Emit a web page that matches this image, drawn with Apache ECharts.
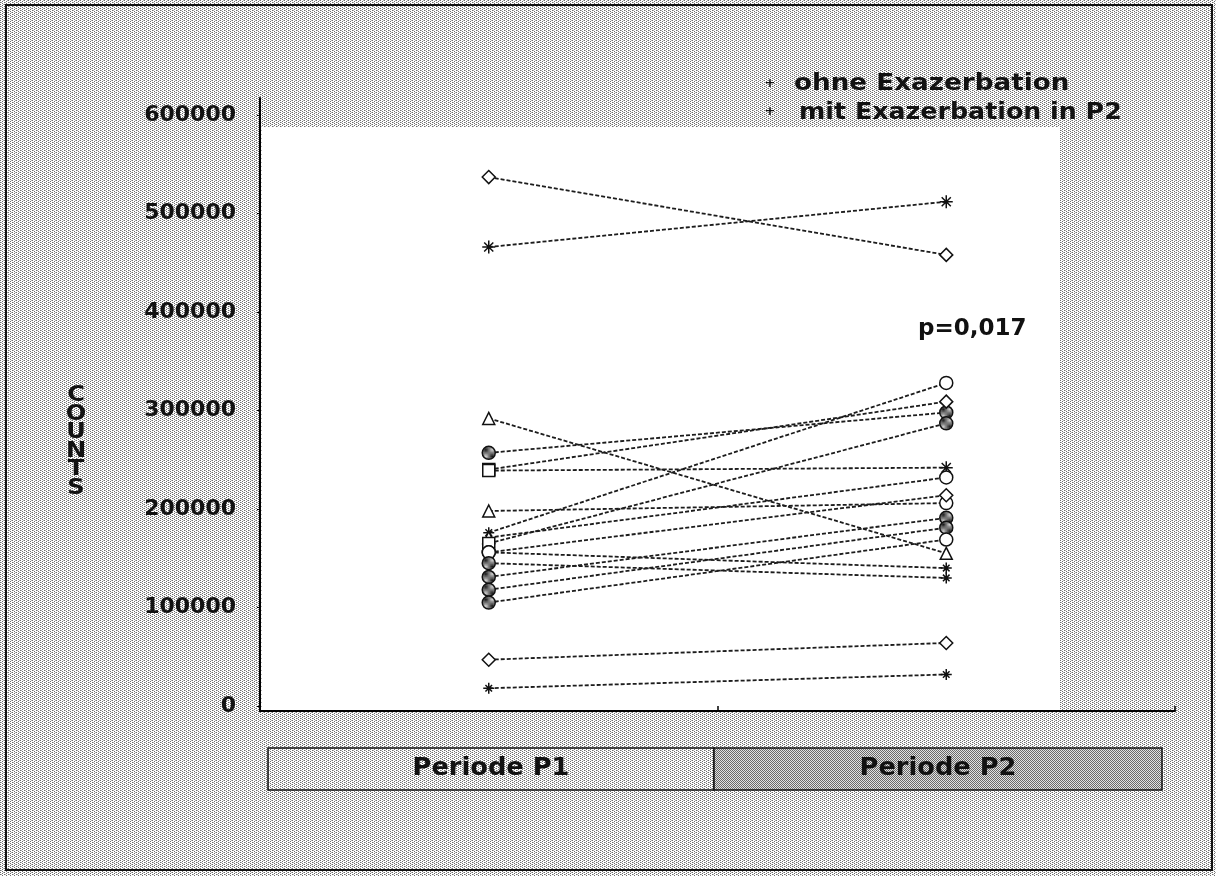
<!DOCTYPE html>
<html>
<head>
<meta charset="utf-8">
<script src="https://cdn.jsdelivr.net/npm/echarts@6/dist/echarts.min.js"></script>
<style>
  html, body { margin: 0; padding: 0; background: #fff; }
  #chart { width: 1216px; height: 876px; }
</style>
</head>
<body>
<div id="chart"></div>
<script>
// Periods on the x axis
const periods = ['Periode P1', 'Periode P2'];
// Counts per patient in period P1 and period P2 (same order)
const countsP1 = [537000, 466000, 292000, 257000, 240000, 239000, 198000, 176000, 171000, 165000, 156000, 156000, 145000, 131000, 118000, 105000, 47000, 18000];
const countsP2 = [458000, 512000, 155000, 298000, 309000, 242000, 206000, 328000, 232000, 287000, 214000, 140000, 130000, 191000, 181000, 169000, 64000, 32000];
// Y axis tick labels
const yTicks = [0, 100000, 200000, 300000, 400000, 500000, 600000];
const legendLabels = ['ohne Exazerbation', 'mit Exazerbation in P2'];
const pValueText = 'p=0,017';
const axisTitle = 'COUNTS';

// Marker shape of each patient line at P1 and P2
const markerKinds = [
  ['diamond', 'diamond'], ['asterisk', 'asterisk'], ['triangle', 'triangle'],
  ['hatched', 'hatched'], ['square', 'diamond'], ['square', 'asterisk'],
  ['triangle', 'circle'], ['cross', 'circle'], ['triangle', 'circle'],
  ['square', 'hatched'], ['circle', 'diamond'], ['circle', 'cross'],
  ['hatched', 'cross'], ['hatched', 'hatched'], ['hatched', 'hatched'],
  ['hatched', 'circle'], ['diamond', 'diamond'], ['cross', 'cross']
];

// Small halftone tiles used as fills
function tile(size, pixels) {
  const c = document.createElement('canvas');
  c.width = c.height = size;
  const g = c.getContext('2d');
  g.fillStyle = '#ffffff';
  g.fillRect(0, 0, size, size);
  pixels.forEach(([x, y, col]) => { g.fillStyle = col; g.fillRect(x, y, 1, 1); });
  return c;
}
const lightTone = tile(4, [[0,0,'#6e6e6e'],[2,1,'#6e6e6e'],[0,2,'#6e6e6e'],[2,3,'#6e6e6e'],[3,0,'#b4b4b4'],[1,2,'#b4b4b4']]);
const darkTone = tile(2, [[0,0,'#6a6a6a'],[1,1,'#6a6a6a'],[1,0,'#e2e2e2'],[0,1,'#e2e2e2']]);
const hatchTone = tile(2, [[0,0,'#111'],[1,1,'#111'],[1,0,'#ddd'],[0,1,'#ddd']]);

const markerStyles = {
  diamond:  { symbol: 'diamond', size: 13, fill: '#fff' },
  asterisk: { symbol: 'path://M0,5L10,5M5,0L5,10M1.5,1.5L8.5,8.5M8.5,1.5L1.5,8.5', size: 13, fill: 'transparent' },
  cross:    { symbol: 'path://M0,5L10,5M5,0L5,10M2,2L8,8M8,2L2,8', size: 11, fill: 'transparent' },
  triangle: { symbol: 'triangle', size: 12, fill: '#fff' },
  hatched:  { symbol: 'circle', size: 13, fill: { image: hatchTone, repeat: 'repeat' } },
  square:   { symbol: 'rect', size: 12, fill: '#fff' },
  circle:   { symbol: 'circle', size: 13, fill: '#fff' }
};

function point(value, kind) {
  const m = markerStyles[kind];
  return {
    value: value,
    symbol: m.symbol,
    symbolSize: m.size,
    itemStyle: { color: m.fill, borderColor: '#111', borderWidth: 1.5 }
  };
}

const series = countsP1.map((v, i) => ({
  type: 'line',
  data: [point(v, markerKinds[i][0]), point(countsP2[i], markerKinds[i][1])],
  showSymbol: true,
  lineStyle: { color: '#1c1c1c', width: 1.8, type: [4, 2] },
  emphasis: { disabled: true },
  z: 3
}));

const FONT = '"DejaVu Sans"';
const W = 1216, H = 876;

// Bold text element, optionally stretched horizontally around its anchor
function label(text, x, y, size, opts) {
  opts = opts || {};
  return {
    type: 'text', z: 6, silent: true, x: x, y: y,
    scaleX: opts.scaleX || 1,
    style: {
      text: text, font: 'bold ' + size + 'px ' + FONT, fill: '#111',
      textAlign: opts.align || 'left', textVerticalAlign: 'middle',
      lineHeight: opts.lineHeight
    }
  };
}

const chart = echarts.init(document.getElementById('chart'), null, { renderer: 'canvas' });
chart.setOption({
  animation: false,
  backgroundColor: 'transparent',
  grid: { left: 260, right: 41, top: 98, bottom: 165 },
  xAxis: {
    type: 'category',
    data: periods,
    boundaryGap: true,
    axisLine: { onZero: false, lineStyle: { color: '#000', width: 2 } },
    axisTick: { show: true, inside: true, length: 5, lineStyle: { color: '#000', width: 1.5 } },
    axisLabel: { show: false },
    splitLine: { show: false }
  },
  yAxis: {
    type: 'value',
    min: -5100,
    max: 617300,
    splitLine: { show: false },
    axisLine: { show: true, lineStyle: { color: '#000', width: 2 } },
    axisTick: { show: true, length: 3, customValues: yTicks, lineStyle: { color: '#000' } },
    axisLabel: {
      customValues: yTicks,
      formatter: v => String(v),
      fontFamily: 'DejaVu Sans', fontWeight: 'bold', fontSize: 22, color: '#111', margin: 24
    }
  },
  series: series,
  graphic: [
    { type: 'rect', z: -20, silent: true, shape: { x: 0, y: 0, width: W, height: H },
      style: { fill: { image: lightTone, repeat: 'repeat' } } },
    { type: 'rect', z: -19, silent: true, shape: { x: 262, y: 127, width: 798, height: 584 },
      style: { fill: '#fff' } },
    { type: 'rect', z: -18, silent: true, shape: { x: 6, y: 5, width: 1206, height: 865 },
      style: { fill: 'none', stroke: '#111', lineWidth: 2 } },
    // period boxes below the axis
    { type: 'rect', z: 5, silent: true, shape: { x: 268, y: 748, width: 446, height: 42 },
      style: { fill: { image: lightTone, repeat: 'repeat' }, stroke: '#111', lineWidth: 1.5 } },
    { type: 'rect', z: 5, silent: true, shape: { x: 714, y: 748, width: 448, height: 42 },
      style: { fill: { image: darkTone, repeat: 'repeat' }, stroke: '#111', lineWidth: 1.5 } },
    label(periods[0], 491, 769, 24, { align: 'center', scaleX: 1.07 }),
    label(periods[1], 938, 769, 24, { align: 'center', scaleX: 1.07 }),
    // legend
    label('+', 770, 84, 13, { align: 'center' }),
    label('+', 770, 112, 13, { align: 'center' }),
    label(legendLabels[0], 794, 84, 23, { scaleX: 1.14 }),
    label(legendLabels[1], 799, 113, 23, { scaleX: 1.1 }),
    // p value
    label(pValueText, 918, 329, 23),
    // vertical axis title
    label(axisTitle.split('').join('\n'), 76, 442, 21, { align: 'center', scaleX: 1.15, lineHeight: 18.5 })
  ]
});
</script>
</body>
</html>
